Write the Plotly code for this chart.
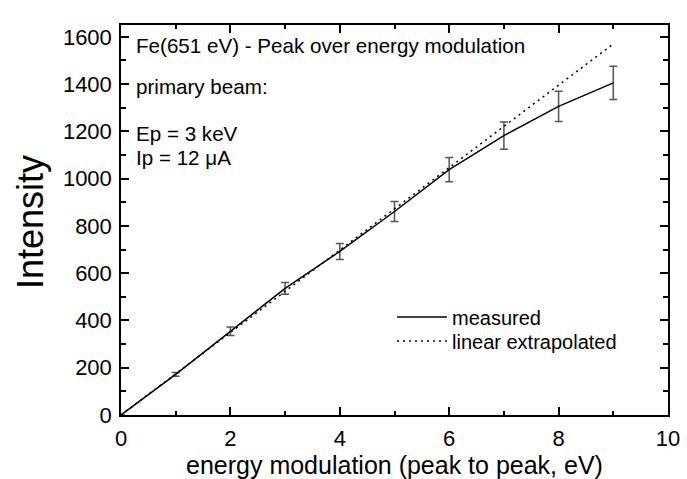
import plotly.graph_objects as go

# Data
energy_mod = [0, 1, 2, 3, 4, 5, 6, 7, 8, 9]
intensity = [0, 172, 354, 536, 692, 861, 1038, 1182, 1306, 1405]
intensity_err = [0, 8, 18, 25, 34, 42, 51, 58, 64, 70]
extrap_x = [0, 9]
extrap_y = [0, 1570]

x_ticks = [0, 2, 4, 6, 8, 10]
y_ticks = [0, 200, 400, 600, 800, 1000, 1200, 1400, 1600]

FONT = "Liberation Sans, Arial, sans-serif"
H = 479
L, R, T, B = 121, 19, 25, 64
PW, PH = 687 - L - R, H - T - B

def px_x(px):
    return (px - L) / PW

def px_y(py):
    return 1 - (py - T) / PH

fig = go.Figure()
fig.add_trace(go.Scatter(
    x=energy_mod, y=intensity, mode="lines", name="measured",
    line=dict(color="black", width=1.5),
    error_y=dict(type="data", array=intensity_err, visible=True,
                 color="#555555", thickness=1.5, width=4),
    legend="legend",
))
fig.add_trace(go.Scatter(
    x=extrap_x, y=extrap_y, mode="lines", name="linear extrapolated",
    line=dict(color="black", width=1.5, dash="2px,4px"),
    legend="legend2",
))

axis_common = dict(
    showline=True, linecolor="black", linewidth=1.5, mirror="ticks",
    ticks="inside", ticklen=8, tickwidth=1.5, tickcolor="black",
    showgrid=False, zeroline=False, automargin=False,
    tickfont=dict(family=FONT, size=22, color="black"),
)

fig.update_xaxes(
    range=[0, 10], tickvals=x_ticks, ticktext=[str(v) for v in x_ticks],
    minor=dict(dtick=1, ticks="inside", ticklen=4, tickwidth=1.5, tickcolor="black"),
    ticklabelstandoff=3,
    **axis_common,
)
fig.update_yaxes(
    range=[0, 1650], tickvals=y_ticks, ticktext=[str(v) for v in y_ticks],
    minor=dict(dtick=100, ticks="inside", ticklen=5, tickwidth=1.5, tickcolor="black"),
    ticklabelstandoff=3,
    **axis_common,
)

# axis titles
fig.add_annotation(
    text="energy modulation (peak to peak, eV)", xref="paper", yref="paper",
    x=0.5, y=px_y(465), xanchor="center", yanchor="middle", showarrow=False,
    font=dict(family=FONT, size=25, color="black"),
)
fig.add_annotation(
    text="Intensity", xref="paper", yref="paper",
    x=px_x(30), y=px_y(222), xanchor="center", yanchor="middle", showarrow=False,
    textangle=-90, font=dict(family=FONT, size=36, color="black"),
)

notes = [
    ("Fe(651 eV) - Peak over energy modulation", 45),
    ("primary beam:", 86),
    ("Ep = 3 keV", 133),
    ("Ip = 12 \u03bcA", 157),
]
for txt, ypx in notes:
    fig.add_annotation(
        text=txt, xref="paper", yref="paper",
        x=px_x(134), y=px_y(ypx),
        xanchor="left", yanchor="middle", showarrow=False,
        font=dict(family=FONT, size=20.6, color="black"),
    )

leg_common = dict(
    xanchor="left", yanchor="middle",
    bgcolor="rgba(0,0,0,0)", borderwidth=0,
    font=dict(family=FONT, size=20, color="black"),
    itemwidth=50,
)

fig.update_layout(
    width=687, height=479,
    margin=dict(l=L, r=R, t=T, b=B),
    plot_bgcolor="white", paper_bgcolor="white",
    showlegend=True,
    legend=dict(x=px_x(392), y=px_y(317), **leg_common),
    legend2=dict(x=px_x(392), y=px_y(341), **leg_common),
)

fig.write_html("out.html")
